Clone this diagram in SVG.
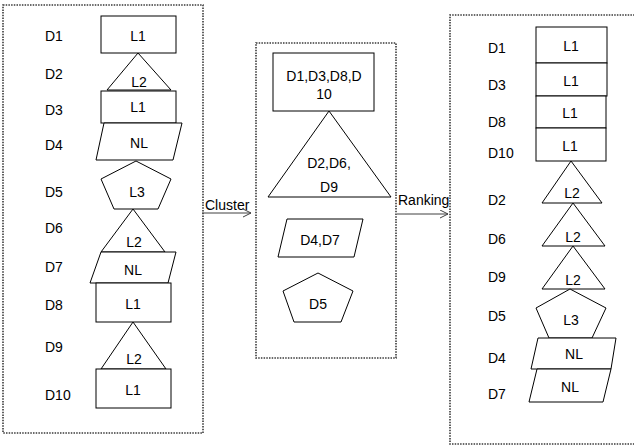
<svg xmlns="http://www.w3.org/2000/svg" width="634" height="445" viewBox="0 0 634 445">
<defs>
<marker id="arr" markerWidth="10" markerHeight="10" refX="8" refY="4" orient="auto" markerUnits="userSpaceOnUse">
<path d="M0,0 L8,4 L0,8" fill="none" stroke="#404040" stroke-width="1"/>
</marker>
</defs>
<style>
.s{fill:#fff;stroke:#000;stroke-width:1}
.t{font-family:"Liberation Sans",Arial,sans-serif;font-size:14px;fill:#000;text-anchor:middle;dominant-baseline:central}
.l{font-family:"Liberation Sans",Arial,sans-serif;font-size:14px;fill:#000;dominant-baseline:central}
.box{fill:none;stroke:#3a3a3a;stroke-width:1.6;stroke-dasharray:1.5 1.2}
.c{stroke:#404040;stroke-width:1;fill:none}
</style>
<rect width="634" height="445" fill="#fff"/>
<g id="boxes">
<rect class="box" x="3" y="5" width="200" height="428"/>
<rect class="box" x="256" y="43" width="140" height="315"/>
<path class="box" d="M640,15 H450 V444 H640"/>
</g>
<g id="connectors">
<line class="c" x1="202" y1="213" x2="251" y2="213" marker-end="url(#arr)"/>
<line class="c" x1="397" y1="214" x2="448" y2="214" marker-end="url(#arr)"/>
<text class="l" x="205" y="205">Cluster</text>
<text class="l" x="398" y="200">Ranking</text>
</g>
<g id="left">
<g id="l-d1"><text class="l" x="45" y="36">D1</text><rect class="s" x="101" y="16" width="75" height="37"/><text class="t" x="138" y="36">L1</text></g>
<g id="l-d2"><text class="l" x="45" y="74">D2</text><polygon class="s" points="138,53 171,90 107,90"/><text class="t" x="139" y="82">L2</text></g>
<g id="l-d3"><text class="l" x="45" y="110">D3</text><rect class="s" x="101" y="91" width="75" height="32"/><text class="t" x="138" y="107">L1</text></g>
<g id="l-d4"><text class="l" x="45" y="145">D4</text><polygon class="s" points="104,123 182,123 173,160 96,160"/><text class="t" x="139" y="143">NL</text></g>
<g id="l-d5"><text class="l" x="45" y="192">D5</text><polygon class="s" points="136,161 171,179 158,209 114,209 101,179"/><text class="t" x="137" y="192">L3</text></g>
<g id="l-d6"><text class="l" x="45" y="228">D6</text><polygon class="s" points="133,209 165,252 101,252"/><text class="t" x="134" y="242">L2</text></g>
<g id="l-d7"><text class="l" x="45" y="267">D7</text><polygon class="s" points="101,252 176,252 168,283 90,283"/><text class="t" x="133" y="270">NL</text></g>
<g id="l-d8"><text class="l" x="45" y="305">D8</text><rect class="s" x="96" y="283" width="75" height="39"/><text class="t" x="133" y="304">L1</text></g>
<g id="l-d9"><text class="l" x="45" y="347">D9</text><polygon class="s" points="133,322 166,369 101,369"/><text class="t" x="134" y="359">L2</text></g>
<g id="l-d10"><text class="l" x="45" y="395">D10</text><rect class="s" x="96" y="369" width="75" height="39"/><text class="t" x="133" y="390">L1</text></g>
</g>
<g id="middle">
<g id="m-l1"><rect class="s" x="273" y="53" width="101" height="58"/><text class="t" x="324" y="76">D1,D3,D8,D</text><text class="t" x="324" y="94">10</text></g>
<g id="m-l2"><polygon class="s" points="329,111 391,197 268,197"/><text class="t" x="329" y="163">D2,D6,</text><text class="t" x="329" y="187">D9</text></g>
<g id="m-nl"><polygon class="s" points="287,219 363,219 354,257 278,257"/><text class="t" x="320" y="240">D4,D7</text></g>
<g id="m-l3"><polygon class="s" points="318,273 353,291 341,322 294,322 283,291"/><text class="t" x="318" y="304">D5</text></g>
</g>
<g id="right">
<g id="r-d1"><text class="l" x="488" y="48">D1</text><rect class="s" x="536" y="27" width="71" height="36"/><text class="t" x="571" y="46">L1</text></g>
<g id="r-d3"><text class="l" x="488" y="85">D3</text><rect class="s" x="536" y="63" width="71" height="33"/><text class="t" x="571" y="81">L1</text></g>
<g id="r-d8"><text class="l" x="488" y="122">D8</text><rect class="s" x="536" y="96" width="70" height="32"/><text class="t" x="570" y="113">L1</text></g>
<g id="r-d10"><text class="l" x="488" y="153">D10</text><rect class="s" x="536" y="128" width="70" height="33"/><text class="t" x="570" y="146">L1</text></g>
<g id="r-d2"><text class="l" x="488" y="200">D2</text><polygon class="s" points="571,161 602,203 542,203"/><text class="t" x="572" y="193">L2</text></g>
<g id="r-d6"><text class="l" x="488" y="239">D6</text><polygon class="s" points="573,203 605,246 542,246"/><text class="t" x="573" y="237">L2</text></g>
<g id="r-d9"><text class="l" x="488" y="277">D9</text><polygon class="s" points="573,246 605,289 542,289"/><text class="t" x="573" y="280">L2</text></g>
<g id="r-d5"><text class="l" x="488" y="316">D5</text><polygon class="s" points="570,289 606,308 592,338 549,338 536,308"/><text class="t" x="571" y="320">L3</text></g>
<g id="r-d4"><text class="l" x="488" y="358">D4</text><polygon class="s" points="538,338 616,338 611,369 531,369"/><text class="t" x="574" y="354">NL</text></g>
<g id="r-d7"><text class="l" x="488" y="394">D7</text><polygon class="s" points="537,369 611,369 603,402 529,402"/><text class="t" x="570" y="387">NL</text></g>
</g>
</svg>
